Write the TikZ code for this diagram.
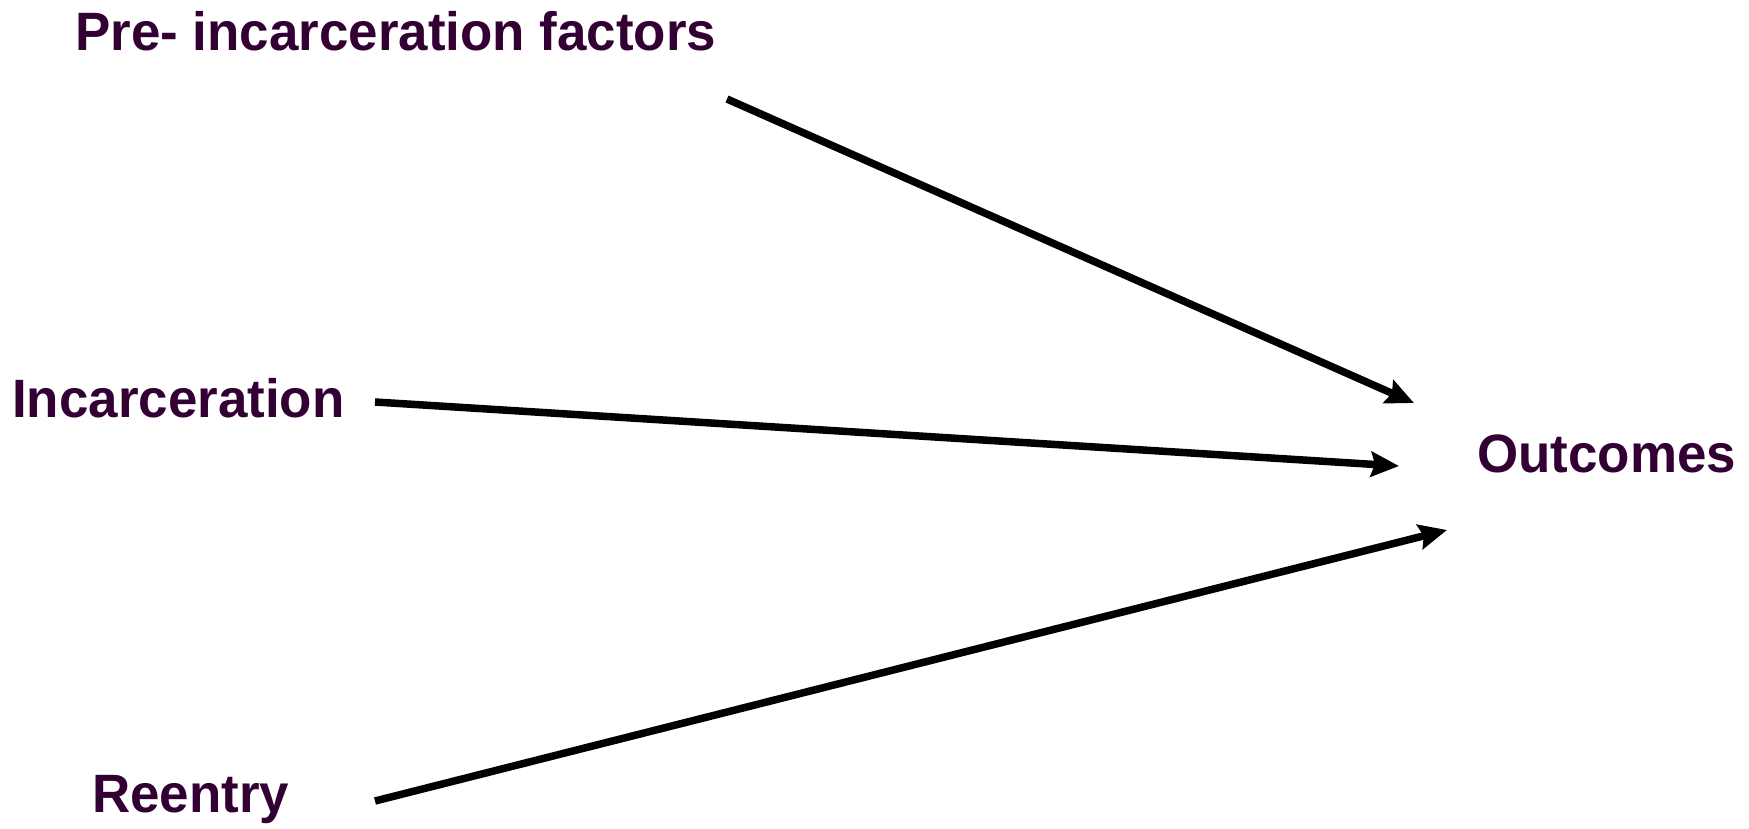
\documentclass[tikz,border=0pt]{standalone}
\usepackage{fontspec}
\setmainfont{Liberation Sans}[FakeStretch=0.98]
\usetikzlibrary{arrows.meta}
\definecolor{labelpurple}{HTML}{330033}
\begin{document}
\begin{tikzpicture}[
        x=1pt, y=-1pt,
        % common styles
        factor/.style={
            inner sep=0pt, anchor=base west, text=labelpurple,
            font=\fontsize{54}{60}\selectfont\bfseries
        },
        arr/.style={-{Stealth[length=28pt, width=25pt, inset=4pt]}, line width=7.5pt, draw=black}
    ]
        \useasboundingbox (0,0) rectangle (1749,828);

        % labels at direct coordinates
        \node[factor] (pre) at (75, 50) {Pre- incarceration factors};
        \node[factor] (inc) at (12, 417) {Incarceration};
        \node[factor] (reentry) at (92, 812) {Reentry};
        \node[factor] (out) at (1477, 472) {Outcomes};

        % arrow ends
        \coordinate (pre-start) at (727, 99);
        \coordinate (inc-start) at (375, 402);
        \coordinate (reentry-start) at (375, 801);
        \coordinate (out-top) at (1414, 403);
        \coordinate (out-mid) at (1399, 466);
        \coordinate (out-low) at (1447, 530);

        % arrows
        \draw[arr] (pre-start) -- (out-top);
        \draw[arr] (inc-start) -- (out-mid);
        \draw[arr] (reentry-start) -- (out-low);

    \end{tikzpicture}
\end{document}
